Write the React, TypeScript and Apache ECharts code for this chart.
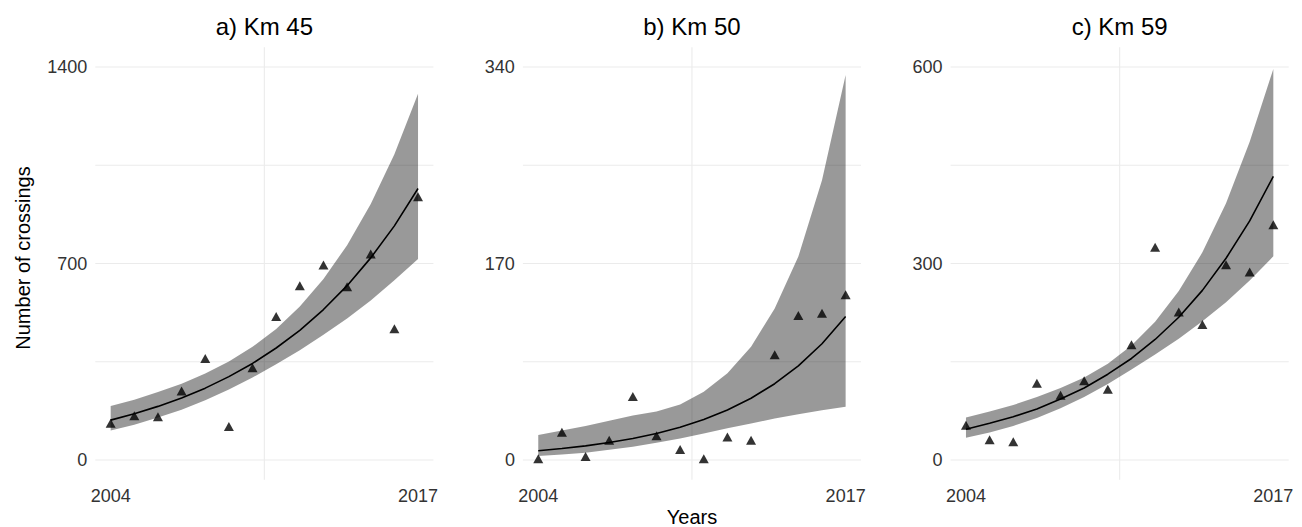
import React, { useEffect, useRef } from "react";
import * as echarts from "echarts";

// ---- data ----
const years = [2004, 2005, 2006, 2007, 2008, 2009, 2010, 2011, 2012, 2013, 2014, 2015, 2016, 2017];
const titles = ["a) Km 45", "b) Km 50", "c) Km 59"];

const obs45 = [131, 158, 154, 246, 362, 119, 329, 511, 621, 695, 617, 734, 468, 938];
const fit45 = [142, 165, 191, 221, 256, 297, 344, 399, 462, 536, 621, 720, 834, 967];
const lo45 = [105, 126, 151, 179, 213, 251, 294, 341, 391, 446, 504, 568, 640, 716];
const hi45 = [192, 215, 242, 272, 308, 351, 403, 467, 547, 645, 765, 912, 1089, 1305];

const obs50 = [1, 24, 3, 17, 55, 21, 9, 1, 20, 17, 91, 125, 127, 143];
const fit50 = [8.0, 9.9, 12.2, 15.1, 18.6, 23.0, 28.4, 35.0, 43.3, 53.4, 66.0, 81.5, 100.6, 124.2];
const lo50 = [3.5, 4.8, 6.3, 8.8, 11.5, 15, 18.7, 23, 27.4, 31.5, 36, 39.5, 43, 46];
const hi50 = [21.6, 25.5, 29.5, 34, 38.5, 42, 48, 59, 75, 98, 131, 176, 242, 333];

const obs59 = [53, 31, 28, 117, 99, 121, 108, 176, 325, 226, 207, 298, 287, 359];
const fit59 = [47, 56, 66, 78, 93, 110, 131, 155, 184, 218, 259, 308, 365, 433];
const lo59 = [34, 42, 52, 64, 79, 96, 116, 138, 161, 185, 212, 241, 274, 311];
const hi59 = [65, 74, 84, 96, 110, 126, 147, 175, 211, 258, 317, 392, 486, 597];

const xTicks = [2004, 2017];
const xMinorGrid = [2010.5];
const yTicks45 = [0, 700, 1400];
const yGrid45 = [0, 350, 700, 1050, 1400];
const yTicks50 = [0, 170, 340];
const yGrid50 = [0, 85, 170, 255, 340];
const yTicks59 = [0, 300, 600];
const yGrid59 = [0, 150, 300, 450, 600];

const xTitle = "Years";
const yTitle = "Number of crossings";

// ---- layout / style ----
const FONT = "'Liberation Sans', Arial, Helvetica, sans-serif";
const X_MIN = 2003.35;
const X_MAX = 2017.65;
const GRID_TOP = 47.35;
const GRID_H = 432.3;
const GRID_W = 338.1;
const LEFTS = [95.3, 522.9, 950.6];

const panels = [
  { obs: obs45, fit: fit45, lo: lo45, hi: hi45, ticks: yTicks45, grid: yGrid45, min: -70, max: 1470 },
  { obs: obs50, fit: fit50, lo: lo50, hi: hi50, ticks: yTicks50, grid: yGrid50, min: -17, max: 357 },
  { obs: obs59, fit: fit59, lo: lo59, hi: hi59, ticks: yTicks59, grid: yGrid59, min: -30, max: 630 },
];

export default function App() {
  const ref = useRef<HTMLDivElement>(null);

  useEffect(() => {
    if (!ref.current) return;
    const chart = echarts.init(ref.current, undefined, { renderer: "svg" });

    const series: any[] = [];
    panels.forEach((p, i) => {
      // grid lines (below everything)
      series.push({
        type: "custom",
        xAxisIndex: i,
        yAxisIndex: i,
        z: 1,
        silent: true,
        data: [[xMinorGrid[0], p.grid[0]]],
        renderItem: (params: any, api: any) => {
          if (params.dataIndex !== 0) return null;
          const children: any[] = [];
          p.grid.forEach((v) => {
            const a = api.coord([X_MIN, v]);
            const b = api.coord([X_MAX, v]);
            children.push({
              type: "line",
              shape: { x1: a[0], y1: a[1], x2: b[0], y2: b[1] },
              style: { stroke: "#EBEBEB", lineWidth: 1.1 },
            });
          });
          xMinorGrid.forEach((v) => {
            const a = api.coord([v, p.min]);
            const b = api.coord([v, p.max]);
            children.push({
              type: "line",
              shape: { x1: a[0], y1: a[1], x2: b[0], y2: b[1] },
              style: { stroke: "#EBEBEB", lineWidth: 1.1 },
            });
          });
          return { type: "group", children };
        },
      });
      // confidence band
      series.push({
        type: "custom",
        xAxisIndex: i,
        yAxisIndex: i,
        z: 2,
        silent: true,
        data: years.map((y, k) => [y, p.lo[k], p.hi[k]]),
        encode: { x: 0, y: [1, 2] },
        renderItem: (params: any, api: any) => {
          if (params.dataIndex !== 0) return null;
          const lower = years.map((y, k) => api.coord([y, p.lo[k]]));
          const upper = years.map((y, k) => api.coord([y, p.hi[k]])).reverse();
          return {
            type: "polygon",
            shape: { points: lower.concat(upper) },
            style: { fill: "rgba(0,0,0,0.4)" },
          };
        },
      });
      // fitted line
      series.push({
        type: "line",
        xAxisIndex: i,
        yAxisIndex: i,
        z: 3,
        data: years.map((y, k) => [y, p.fit[k]]),
        showSymbol: false,
        symbol: "none",
        smooth: false,
        lineStyle: { color: "#000", width: 1.6 },
      });
      // observations
      series.push({
        type: "scatter",
        xAxisIndex: i,
        yAxisIndex: i,
        z: 4,
        data: years.map((y, k) => [y, p.obs[k]]),
        symbol: "triangle",
        symbolSize: [10, 9],
        itemStyle: { color: "#000" },
      });
    });

    const option: any = {
      animation: false,
      backgroundColor: "#fff",
      grid: panels.map((_, i) => ({
        left: LEFTS[i],
        top: GRID_TOP,
        width: GRID_W,
        height: GRID_H,
        containLabel: false,
        outerBoundsMode: "none",
      })),
      xAxis: panels.map((_, i) => ({
        type: "value",
        gridIndex: i,
        min: X_MIN,
        max: X_MAX,
        axisLine: { show: false },
        axisTick: { show: false },
        splitLine: { show: false },
        axisLabel: {
          customValues: xTicks,
          fontSize: 18,
          color: "#333",
          fontFamily: FONT,
          margin: 7,
          formatter: (v: number) => String(Math.round(v)),
        },
      })),
      yAxis: panels.map((p, i) => ({
        type: "value",
        gridIndex: i,
        min: p.min,
        max: p.max,
        axisLine: { show: false },
        axisTick: { show: false },
        splitLine: { show: false },
        axisLabel: {
          customValues: p.ticks,
          fontSize: 18,
          color: "#333",
          fontFamily: FONT,
          margin: 8,
          formatter: (v: number) => String(Math.round(v)),
        },
      })),
      graphic: [
        ...titles.map((t, i) => ({
          type: "text",
          x: LEFTS[i] + GRID_W / 2,
          y: 26,
          silent: true,
          style: {
            text: t,
            fontSize: 24,
            fontFamily: FONT,
            fill: "#000",
            align: "center",
            verticalAlign: "middle",
            textAlign: "center",
            textVerticalAlign: "middle",
          },
        })),
        {
          type: "text",
          x: (LEFTS[0] + LEFTS[2] + GRID_W) / 2,
          y: 517,
          silent: true,
          style: {
            text: xTitle,
            fontSize: 20,
            fontFamily: FONT,
            fill: "#000",
            align: "center",
            verticalAlign: "middle",
            textAlign: "center",
            textVerticalAlign: "middle",
          },
        },
        {
          type: "text",
          x: 22.5,
          y: 258,
          rotation: Math.PI / 2,
          silent: true,
          style: {
            text: yTitle,
            fontSize: 20,
            fontFamily: FONT,
            fill: "#000",
            align: "center",
            verticalAlign: "middle",
            textAlign: "center",
            textVerticalAlign: "middle",
          },
        },
      ],
      series,
    };

    chart.setOption(option);
    return () => chart.dispose();
  }, []);

  return (
    <div
      ref={ref}
      style={{ position: "fixed", left: 0, top: 0, width: 1302, height: 527, background: "#fff" }}
    />
  );
}
